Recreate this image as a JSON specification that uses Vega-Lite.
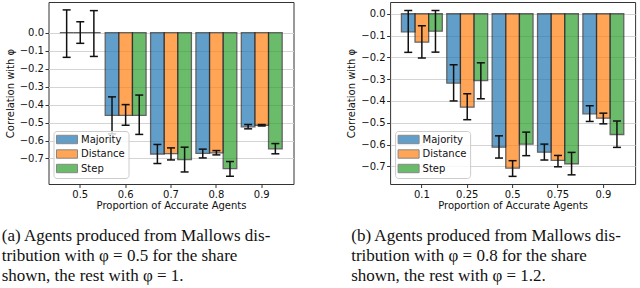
{
  "$schema": "https://vega.github.io/schema/vega-lite/v6.json",
  "padding": {"left": 0.5, "top": 1, "right": 0, "bottom": 0},
  "background": "white",
  "datasets": {
    "a": [
      {"group": "0.5", "method": "Majority", "value": 0, "lo": -0.137, "hi": 0.127},
      {"group": "0.5", "method": "Distance", "value": 0, "lo": -0.059, "hi": 0.061},
      {"group": "0.5", "method": "Step", "value": 0, "lo": -0.132, "hi": 0.123},
      {"group": "0.6", "method": "Majority", "value": -0.46, "lo": -0.563, "hi": -0.357},
      {"group": "0.6", "method": "Distance", "value": -0.46, "lo": -0.515, "hi": -0.4},
      {"group": "0.6", "method": "Step", "value": -0.46, "lo": -0.566, "hi": -0.347},
      {"group": "0.7", "method": "Majority", "value": -0.675, "lo": -0.728, "hi": -0.622},
      {"group": "0.7", "method": "Distance", "value": -0.673, "lo": -0.708, "hi": -0.641},
      {"group": "0.7", "method": "Step", "value": -0.706, "lo": -0.775, "hi": -0.637},
      {"group": "0.8", "method": "Majority", "value": -0.672, "lo": -0.697, "hi": -0.648},
      {"group": "0.8", "method": "Distance", "value": -0.669, "lo": -0.68, "hi": -0.656},
      {"group": "0.8", "method": "Step", "value": -0.756, "lo": -0.799, "hi": -0.717},
      {"group": "0.9", "method": "Majority", "value": -0.524, "lo": -0.535, "hi": -0.511},
      {"group": "0.9", "method": "Distance", "value": -0.515, "lo": -0.519, "hi": -0.511},
      {"group": "0.9", "method": "Step", "value": -0.647, "lo": -0.674, "hi": -0.617}
    ],
    "b": [
      {"group": "0.1", "method": "Majority", "value": -0.083, "lo": -0.177, "hi": 0.015},
      {"group": "0.1", "method": "Distance", "value": -0.13, "lo": -0.203, "hi": -0.055},
      {"group": "0.1", "method": "Step", "value": -0.08, "lo": -0.176, "hi": 0.015},
      {"group": "0.25", "method": "Majority", "value": -0.318, "lo": -0.4, "hi": -0.234},
      {"group": "0.25", "method": "Distance", "value": -0.428, "lo": -0.486, "hi": -0.367},
      {"group": "0.25", "method": "Step", "value": -0.307, "lo": -0.39, "hi": -0.225},
      {"group": "0.5", "method": "Majority", "value": -0.612, "lo": -0.662, "hi": -0.56},
      {"group": "0.5", "method": "Distance", "value": -0.708, "lo": -0.746, "hi": -0.674},
      {"group": "0.5", "method": "Step", "value": -0.598, "lo": -0.651, "hi": -0.543},
      {"group": "0.75", "method": "Majority", "value": -0.635, "lo": -0.671, "hi": -0.598},
      {"group": "0.75", "method": "Distance", "value": -0.673, "lo": -0.702, "hi": -0.65},
      {"group": "0.75", "method": "Step", "value": -0.688, "lo": -0.739, "hi": -0.636},
      {"group": "0.9", "method": "Majority", "value": -0.459, "lo": -0.494, "hi": -0.422},
      {"group": "0.9", "method": "Distance", "value": -0.479, "lo": -0.505, "hi": -0.456},
      {"group": "0.9", "method": "Step", "value": -0.554, "lo": -0.613, "hi": -0.492}
    ]
  },
  "spacing": 96.6,
  "bounds": "flush",
  "resolve": {
    "scale": {"x": "independent", "y": "independent", "color": "independent", "xOffset": "independent"},
    "legend": {"color": "independent"},
    "axis": {"x": "independent", "y": "independent"}
  },
  "hconcat": [
    {
      "width": 245,
      "height": 182,
      "title": {"text": ["(a) Agents produced from Mallows dis-", "tribution with φ = 0.5 for the share", "shown, the rest with φ = 1."], "dx": -3.5},
      "data": {"name": "a"},
      "encoding": {
        "x": {"field": "group", "type": "nominal", "sort": ["0.5", "0.6", "0.7", "0.8", "0.9"], "title": "Proportion of Accurate Agents", "scale": {"paddingInner": 0.1, "paddingOuter": 0.25}},
        "xOffset": {"field": "method", "type": "nominal", "sort": ["Majority", "Distance", "Step"], "scale": {"paddingInner": 0, "paddingOuter": 0}}
      },
      "layer": [
        {
          "mark": {"type": "bar", "opacity": 0.7, "stroke": "#222", "strokeWidth": 1.3},
          "encoding": {
            "y": {"field": "value", "type": "quantitative", "title": "Correlation with φ", "scale": {"domain": [-0.842, 0.171], "nice": false, "zero": false}, "axis": {"values": [0, -0.1, -0.2, -0.3, -0.4, -0.5, -0.6, -0.7], "tickCount": 12, "format": ".1f", "labelOverlap": false}},
            "color": {"field": "method", "type": "nominal", "scale": {"domain": ["Majority", "Distance", "Step"], "range": ["#1f77b4", "#ff7f0e", "#2ca02c"]}, "legend": {"title": null, "orient": "none", "legendX": 5, "legendY": 129}}
          }
        },
        {
          "mark": {"type": "rule", "color": "#111", "strokeWidth": 1.5},
          "encoding": {"y": {"field": "lo", "type": "quantitative", "title": "Correlation with φ"}, "y2": {"field": "hi"}}
        },
        {
          "mark": {"type": "tick", "color": "#111", "size": 8, "thickness": 1.5, "opacity": 1},
          "encoding": {"y": {"field": "lo", "type": "quantitative", "title": "Correlation with φ"}}
        },
        {
          "mark": {"type": "tick", "color": "#111", "size": 8, "thickness": 1.5, "opacity": 1},
          "encoding": {"y": {"field": "hi", "type": "quantitative", "title": "Correlation with φ"}}
        }
      ]
    },
    {
      "width": 245,
      "height": 182,
      "title": {"text": ["(b) Agents produced from Mallows dis-", "tribution with φ = 0.8 for the share", "shown, the rest with φ = 1.2."], "dx": 4.4},
      "data": {"name": "b"},
      "encoding": {
        "x": {"field": "group", "type": "nominal", "sort": ["0.1", "0.25", "0.5", "0.75", "0.9"], "title": "Proportion of Accurate Agents", "scale": {"paddingInner": 0.1, "paddingOuter": 0.25}},
        "xOffset": {"field": "method", "type": "nominal", "sort": ["Majority", "Distance", "Step"], "scale": {"paddingInner": 0, "paddingOuter": 0}}
      },
      "layer": [
        {
          "mark": {"type": "bar", "opacity": 0.7, "stroke": "#222", "strokeWidth": 1.3},
          "encoding": {
            "y": {"field": "value", "type": "quantitative", "title": "Correlation with φ", "scale": {"domain": [-0.781, 0.054], "nice": false, "zero": false}, "axis": {"values": [0, -0.1, -0.2, -0.3, -0.4, -0.5, -0.6, -0.7], "tickCount": 12, "format": ".1f", "labelOverlap": false}},
            "color": {"field": "method", "type": "nominal", "scale": {"domain": ["Majority", "Distance", "Step"], "range": ["#1f77b4", "#ff7f0e", "#2ca02c"]}, "legend": {"title": null, "orient": "none", "legendX": 5, "legendY": 129}}
          }
        },
        {
          "mark": {"type": "rule", "color": "#111", "strokeWidth": 1.5},
          "encoding": {"y": {"field": "lo", "type": "quantitative", "title": "Correlation with φ"}, "y2": {"field": "hi"}}
        },
        {
          "mark": {"type": "tick", "color": "#111", "size": 8, "thickness": 1.5, "opacity": 1},
          "encoding": {"y": {"field": "lo", "type": "quantitative", "title": "Correlation with φ"}}
        },
        {
          "mark": {"type": "tick", "color": "#111", "size": 8, "thickness": 1.5, "opacity": 1},
          "encoding": {"y": {"field": "hi", "type": "quantitative", "title": "Correlation with φ"}}
        }
      ]
    }
  ],
  "config": {
    "view": {"stroke": "#333", "strokeWidth": 1},
    "axis": {
      "domain": false,
      "tickColor": "#333",
      "tickSize": 3.5,
      "labelFont": "DejaVu Sans",
      "labelFontSize": 10,
      "labelColor": "#111",
      "titleFont": "DejaVu Sans",
      "titleFontSize": 10,
      "titleFontWeight": "normal",
      "titleColor": "#111"
    },
    "axisX": {"grid": false, "labelAngle": 0, "labelPadding": 1.5, "titlePadding": 1},
    "axisY": {"grid": true, "gridColor": "#d4d4d4", "labelPadding": 1.5, "titlePadding": 4},
    "legend": {
      "fillColor": "rgba(255,255,255,0.8)",
      "strokeColor": "#cccccc",
      "cornerRadius": 3,
      "padding": 3,
      "labelFont": "DejaVu Sans",
      "labelFontSize": 10,
      "labelColor": "#111",
      "symbolType": "M-2.1,-0.84H2.1V0.84H-2.1Z",
      "symbolSize": 100,
      "symbolOffset": 5,
      "symbolStrokeColor": "#555",
      "symbolStrokeWidth": 1,
      "labelOffset": 8.5,
      "rowPadding": 1.5
    },
    "title": {
      "orient": "bottom",
      "anchor": "start",
      "frame": "bounds",
      "font": "Liberation Serif",
      "fontSize": 17,
      "fontWeight": "normal",
      "color": "#111",
      "lineHeight": 20,
      "baseline": "top",
      "offset": 18
    }
  }
}
